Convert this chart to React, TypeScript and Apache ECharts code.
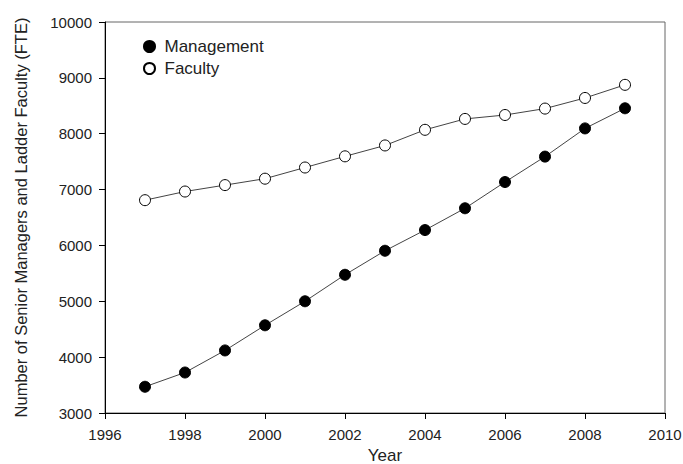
import React, { useEffect, useRef } from "react";
import * as echarts from "echarts";

const years = [1997, 1998, 1999, 2000, 2001, 2002, 2003, 2004, 2005, 2006, 2007, 2008, 2009];
const management = [3470, 3725, 4120, 4570, 5000, 5475, 5905, 6275, 6665, 7135, 7590, 8095, 8455];
const faculty = [6810, 6965, 7080, 7195, 7395, 7595, 7790, 8070, 8265, 8335, 8450, 8640, 8875];

const font = "'Liberation Sans', Arial, sans-serif";
const textColor = "#222";

export default function App() {
  const ref = useRef<HTMLDivElement>(null);
  useEffect(() => {
    if (!ref.current) return;
    const chart = echarts.init(ref.current, null, { renderer: "svg" });
    chart.setOption({
      animation: false,
      backgroundColor: "#fff",
      textStyle: { fontFamily: font },
      grid: {
        left: 105,
        right: 18,
        top: 22,
        bottom: 51,
        show: true,
        borderColor: "#666",
        borderWidth: 1,
        containLabel: false,
        outerBoundsMode: "none",
      },
      legend: {
        orient: "vertical",
        left: 138,
        top: 33,
        itemWidth: 20,
        itemHeight: 11,
        itemGap: 5,
        icon: "circle",
        textStyle: { fontFamily: font, fontSize: 17, color: textColor },
        data: ["Management", "Faculty"],
      },
      xAxis: {
        type: "value",
        min: 1996,
        max: 2010,
        interval: 2,
        name: "Year",
        nameLocation: "middle",
        nameGap: 34,
        nameTextStyle: { fontFamily: font, fontSize: 17, color: textColor },
        axisLine: { show: true, lineStyle: { color: "#000", width: 1 } },
        axisTick: { show: true, inside: false, length: 6, lineStyle: { color: "#000" } },
        axisLabel: {
          margin: 14,
          fontFamily: font,
          fontSize: 15,
          color: textColor,
          formatter: (v: number) => String(v),
        },
        splitLine: { show: false },
      },
      yAxis: {
        type: "value",
        min: 3000,
        max: 10000,
        interval: 1000,
        name: "Number of Senior Managers and Ladder Faculty (FTE)",
        nameLocation: "middle",
        nameRotate: 90,
        nameGap: 76,
        nameTextStyle: { fontFamily: font, fontSize: 16.5, color: textColor },
        axisLine: { show: true, lineStyle: { color: "#000", width: 1 } },
        axisTick: { show: true, inside: false, length: 6, lineStyle: { color: "#000" } },
        axisLabel: {
          margin: 13,
          fontFamily: font,
          fontSize: 15,
          color: textColor,
          formatter: (v: number) => String(v),
        },
        splitLine: { show: false },
      },
      series: [
        {
          name: "Management",
          type: "line",
          data: years.map((y, i) => [y, management[i]]),
          symbol: "circle",
          symbolSize: 11,
          lineStyle: { color: "#444", width: 1 },
          itemStyle: { color: "#000", borderColor: "#000", borderWidth: 1 },
          z: 3,
        },
        {
          name: "Faculty",
          type: "line",
          data: years.map((y, i) => [y, faculty[i]]),
          symbol: "circle",
          symbolSize: 11,
          lineStyle: { color: "#444", width: 1 },
          itemStyle: { color: "#fff", borderColor: "#000", borderWidth: 1 },
          z: 3,
        },
      ],
    });
    return () => chart.dispose();
  }, []);
  return <div ref={ref} style={{ width: 683, height: 464, position: "absolute", left: 0, top: 0 }} />;
}
